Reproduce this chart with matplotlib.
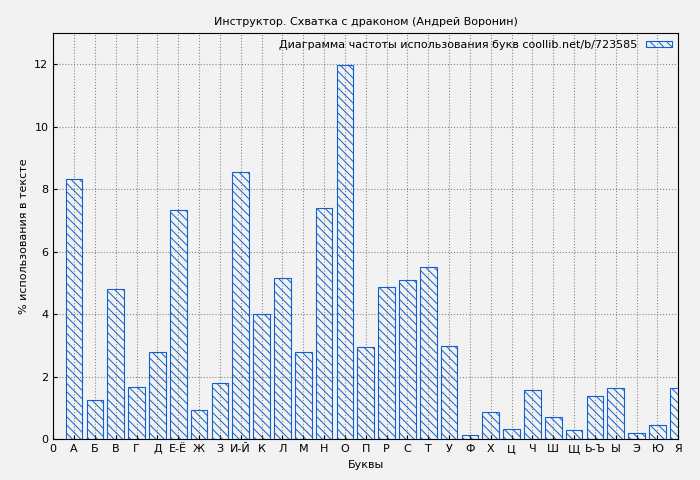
import matplotlib
matplotlib.use('Agg')
import matplotlib.pyplot as plt

# tick labels (position 0 is just "0")
labels = ['0', 'А', 'Б', 'В', 'Г', 'Д', 'Е-Ё', 'Ж', 'З', 'И-Й', 'К', 'Л', 'М', 'Н', 'О',
          'П', 'Р', 'С', 'Т', 'У', 'Ф', 'Х', 'Ц', 'Ч', 'Ш', 'Щ', 'Ь-Ъ', 'Ы', 'Э', 'Ю', 'Я']
values = [8.32, 1.25, 4.8, 1.66, 2.78, 7.33, 0.93, 1.79, 8.54, 4.0, 5.15, 2.78, 7.39, 11.97,
          2.94, 4.86, 5.09, 5.5, 2.98, 0.13, 0.86, 0.32, 1.57, 0.7, 0.29, 1.38, 1.63, 0.19,
          0.45, 1.63]
positions = list(range(1, len(values) + 1))

plt.rcParams['hatch.color'] = '#1060d0'
plt.rcParams['hatch.linewidth'] = 0.7
fig = plt.figure(figsize=(7, 4.8), dpi=100, facecolor='#f2f2f2')
ax = fig.add_axes([0.076, 0.085, 0.893, 0.846])
ax.set_facecolor('#f2f2f2')
ax.bar(positions, values, width=0.8, color='none', edgecolor='#1060d0', hatch='\\\\\\\\',
       linewidth=0.8, label='Диаграмма частоты использования букв coollib.net/b/723585', zorder=3)
ax.set_xlim(0, 30)
ax.set_ylim(0, 13)
ax.set_xticks(range(len(labels)))
ax.set_xticklabels(labels, fontsize=8)
ax.set_yticks(range(0, 13, 2))
ax.tick_params(labelsize=8, direction='in', length=3)
ax.grid(True, linestyle=':', color='#888888', linewidth=0.8, zorder=0)
ax.set_xlabel('Буквы', fontsize=8)
ax.set_ylabel('% использования в тексте', fontsize=8)
ax.set_title('Инструктор. Схватка с драконом (Андрей Воронин)', fontsize=8)
ax.legend(loc='upper right', fontsize=8, frameon=False, markerfirst=False,
          handlelength=2.3, handleheight=0.5, borderaxespad=0.2)
plt.savefig('out.png', facecolor=fig.get_facecolor())
